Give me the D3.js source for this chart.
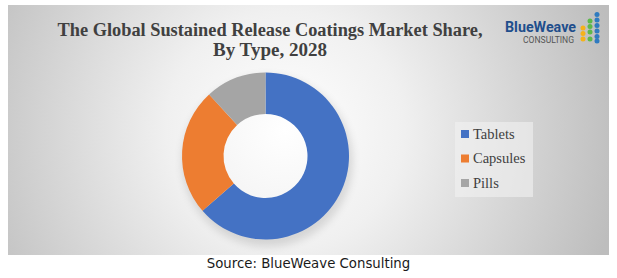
<!DOCTYPE html>
<html>
<head>
<meta charset="utf-8">
<script src="https://cdn.jsdelivr.net/npm/d3@7"></script>
<style>
  body { margin: 0; background: #ffffff; }
  svg { display: block; }
</style>
</head>
<body>
<div id="chart"></div>
<script>
var categories = ["Tablets", "Capsules", "Pills"];
var shares = [63.6, 24.6, 11.8];
var colors = ["#4472C4", "#ED7D31", "#A5A5A5"];
var titleLines = ["The Global Sustained Release Coatings Market Share,", "By Type, 2028"];
var sourceText = "Source: BlueWeave Consulting";

var width = 617,
    height = 278;

var svg = d3.select('#chart')
    .append('svg')
    .attr('width', width)
    .attr('height', height);

var defs = svg.append('defs');

// panel background: soft radial grey
var grad = defs.append('radialGradient')
    .attr('id', 'bg')
    .attr('gradientUnits', 'userSpaceOnUse')
    .attr('cx', 285).attr('cy', 130).attr('r', 340);
grad.append('stop').attr('offset', '0%').attr('stop-color', '#ffffff');
grad.append('stop').attr('offset', '35%').attr('stop-color', '#f0f0f0');
grad.append('stop').attr('offset', '100%').attr('stop-color', '#bdbdbd');

var blur = defs.append('filter').attr('id', 'soft')
    .attr('x', '-30%').attr('y', '-30%').attr('width', '160%').attr('height', '160%');
blur.append('feGaussianBlur').attr('stdDeviation', 5);

svg.append('rect')
    .attr('x', 8).attr('y', 5)
    .attr('width', 601).attr('height', 250)
    .attr('fill', 'url(#bg)');

// title
var titleWidths = [425, 114];
svg.append('g').selectAll('text')
    .data(titleLines)
    .enter()
    .append('text')
    .attr('x', 270)
    .attr('y', function (d, i) { return 36 + i * 20; })
    .attr('text-anchor', 'middle')
    .attr('font-family', 'Liberation Serif, serif')
    .attr('font-weight', 'bold')
    .attr('font-size', 18.5)
    .attr('textLength', function (d, i) { return titleWidths[i]; })
    .attr('lengthAdjust', 'spacingAndGlyphs')
    .attr('fill', '#404040')
    .text(function (d) { return d; });

// logo
var logo = svg.append('g');
logo.append('text')
    .attr('x', 505).attr('y', 32)
    .attr('font-family', 'Roboto, sans-serif')
    .attr('font-weight', 'bold')
    .attr('font-size', 14)
    .attr('textLength', 71)
    .attr('lengthAdjust', 'spacingAndGlyphs')
    .attr('fill', '#1F4E8C')
    .text('BlueWeave');
logo.append('text')
    .attr('x', 523).attr('y', 43)
    .attr('font-family', 'Roboto, sans-serif')
    .attr('font-size', 8.5)
    .attr('textLength', 51)
    .attr('lengthAdjust', 'spacingAndGlyphs')
    .attr('fill', '#555555')
    .text('CONSULTING');
var dotCols = [
    { x: 583, ys: [28, 33.5, 39], c: '#F5B21B' },
    { x: 590, ys: [21, 26.5, 32, 39], c: '#5DB94A' },
    { x: 597, ys: [14.5, 20, 25.5, 31, 36.5, 41], c: '#2F7BC0' }
];
dotCols.forEach(function (col) {
    logo.selectAll(null)
        .data(col.ys)
        .enter()
        .append('circle')
        .attr('cx', col.x)
        .attr('cy', function (d) { return d; })
        .attr('r', 2.5)
        .attr('fill', col.c);
});

// donut
var cx = 265.5, cy = 156, outerR = 83.5, innerR = 42;

var pie = d3.pie().sort(null).value(function (d) { return d; });
var arc = d3.arc().innerRadius(innerR).outerRadius(outerR);

var g = svg.append('g')
    .attr('transform', 'translate(' + cx + ',' + cy + ')');

// soft shadow ring behind the donut
g.append('path')
    .attr('d', d3.arc().innerRadius(outerR - 10).outerRadius(outerR + 1).startAngle(0).endAngle(2 * Math.PI)())
    .attr('transform', 'translate(2,5)')
    .attr('fill', '#000000')
    .attr('opacity', 0.14)
    .attr('filter', 'url(#soft)');

g.selectAll('path.slice')
    .data(pie(shares))
    .enter()
    .append('path')
    .attr('class', 'slice')
    .attr('d', arc)
    .attr('fill', function (d, i) { return colors[i]; });

// legend
var legend = svg.append('g');
legend.append('rect')
    .attr('x', 455).attr('y', 122)
    .attr('width', 78).attr('height', 75)
    .attr('fill', '#f2f2f2')
    .attr('opacity', 0.6);

var items = legend.selectAll('g.item')
    .data(categories)
    .enter()
    .append('g')
    .attr('class', 'item')
    .attr('transform', function (d, i) { return 'translate(461,' + (134 + i * 24.5) + ')'; });

items.append('rect')
    .attr('x', 0).attr('y', -4)
    .attr('width', 8).attr('height', 8)
    .attr('fill', function (d, i) { return colors[i]; });

items.append('text')
    .attr('x', 12).attr('y', 4.5)
    .attr('font-family', 'Liberation Serif, serif')
    .attr('font-size', 14.5)
    .attr('fill', '#404040')
    .text(function (d) { return d; });

// source
svg.append('text')
    .attr('x', 308.5).attr('y', 268)
    .attr('text-anchor', 'middle')
    .attr('font-family', 'DejaVu Sans, Verdana, sans-serif')
    .attr('font-size', 13.3)
    .attr('fill', '#1a1a1a')
    .text(sourceText);
</script>
</body>
</html>
